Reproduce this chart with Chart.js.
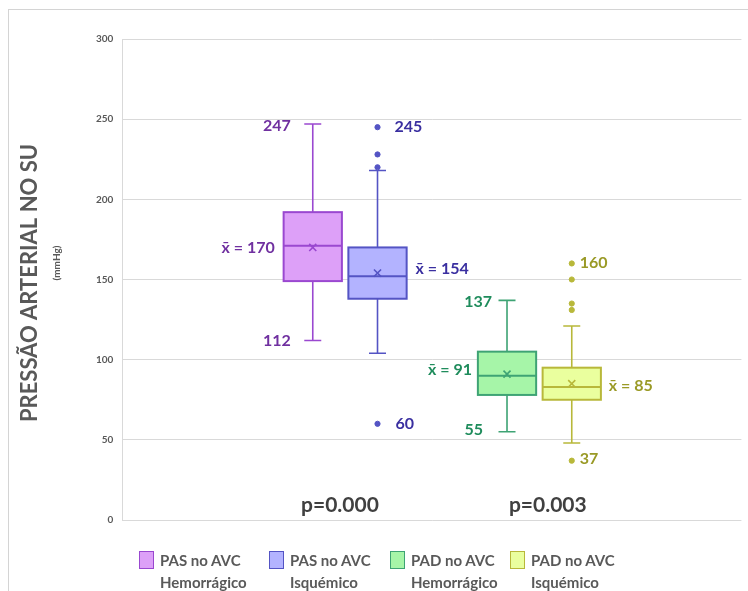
<!DOCTYPE html>
<html>
<head>
<meta charset="utf-8">
<script src="https://cdn.jsdelivr.net/npm/chart.js@4"></script>
<style>
  body { margin: 0; background: #fff; width: 748px; height: 591px; overflow: hidden; position: relative; font-family: Lato, sans-serif; }
  #frame { position: absolute; left: 8px; top: 9px; width: 900px; height: 800px; border: 1px solid #d4d4d4; }
  canvas { position: absolute; left: 0; top: 0; }
  .leg { position: absolute; top: 549px; display: flex; color: #595959; font-weight: 700; font-size: 15px; line-height: 22px; }
  .leg span.box { width: 13px; height: 16px; border: 1.5px solid; margin: 2px 6px 0 0; flex: none; }
</style>
</head>
<body>
<div id="frame"></div>
<canvas id="c" width="748" height="591"></canvas>
<div id="legend"></div>
<script>
// box plot values (mmHg)
const categories = ['PAS no AVC\nHemorrágico', 'PAS no AVC\nIsquémico', 'PAD no AVC\nHemorrágico', 'PAD no AVC\nIsquémico'];
const positions = [3, 4, 6, 7];
const whiskerLow = [112, 104, 55, 48];
const q1 = [149, 138, 78, 75];
const median = [171, 152, 90, 83];
const q3 = [192, 170, 105, 95];
const whiskerHigh = [247, 218, 137, 121];
const means = [170, 154, 91, 85];
const outliers = [[], [245, 228, 220, 60], [], [160, 150, 135, 131, 37]];
const yTicks = [0, 50, 100, 150, 200, 250, 300];

// value labels: [group, value, text]
const valueLabels = [
  [0, 247, '247'], [0, 112, '112'], [0, 170, 'x̄ = 170'],
  [1, 245, '245'], [1, 154, 'x̄ = 154'], [1, 60, '60'],
  [2, 137, '137'], [2, 91, 'x̄ = 91'], [2, 55, '55'],
  [3, 160, '160'], [3, 85, 'x̄ = 85'], [3, 37, '37']
];
const pValues = ['p=0.000', 'p=0.003'];

// styling
const fills = ['#dda0f8', '#b3b3ff', '#a6f5a8', '#eaff9e'];
const strokes = ['#9a48d0', '#5454c4', '#3ea374', '#b8b83a'];
const textColors = ['#7030a0', '#3a2fa0', '#1f8c5c', '#9a9a26'];
// pixel offset from box centre for each value label (negative = right aligned to the left)
const labelDx = [-22, -22, -38, 17, 38, 18, -15, -35, -24, 8, 37, 8];
const labelDy = [2, 0, 0, 0, -4, 0, 2, -4, -2, -1, 2, -2];
const pX = [3.42, 6.63];
const boxHalf = 0.45;

const datasets = [];
positions.forEach((p, i) => {
  datasets.push({
    data: [{ x: p, y: means[i] }],
    pointStyle: 'crossRot', pointRadius: 5, borderWidth: 1.6,
    borderColor: strokes[i], backgroundColor: strokes[i]
  });
  datasets.push({
    data: outliers[i].map(v => ({ x: p, y: v })),
    pointStyle: 'circle', pointRadius: 2.6, borderWidth: 1,
    borderColor: strokes[i], backgroundColor: strokes[i]
  });
});

const boxPlugin = {
  id: 'boxes',
  beforeDatasetsDraw(chart) {
    const { ctx, scales: { x, y } } = chart;
    ctx.save();
    positions.forEach((p, i) => {
      const cx = x.getPixelForValue(p);
      const l = x.getPixelForValue(p - boxHalf), r = x.getPixelForValue(p + boxHalf);
      const cap = 8.5;
      ctx.strokeStyle = strokes[i];
      ctx.lineWidth = 1.6;
      ctx.beginPath();
      ctx.moveTo(cx, y.getPixelForValue(whiskerLow[i]));
      ctx.lineTo(cx, y.getPixelForValue(whiskerHigh[i]));
      ctx.moveTo(cx - cap, y.getPixelForValue(whiskerLow[i]));
      ctx.lineTo(cx + cap, y.getPixelForValue(whiskerLow[i]));
      ctx.moveTo(cx - cap, y.getPixelForValue(whiskerHigh[i]));
      ctx.lineTo(cx + cap, y.getPixelForValue(whiskerHigh[i]));
      ctx.stroke();
      const top = y.getPixelForValue(q3[i]), bot = y.getPixelForValue(q1[i]);
      ctx.fillStyle = fills[i];
      ctx.fillRect(l, top, r - l, bot - top);
      ctx.lineWidth = 2;
      ctx.strokeRect(l, top, r - l, bot - top);
      ctx.beginPath();
      ctx.moveTo(l, y.getPixelForValue(median[i]));
      ctx.lineTo(r, y.getPixelForValue(median[i]));
      ctx.stroke();
    });
    ctx.restore();
  },
  afterDatasetsDraw(chart) {
    const { ctx, scales: { x, y } } = chart;
    ctx.save();
    ctx.font = 'bold 16px Lato';
    ctx.textBaseline = 'middle';
    valueLabels.forEach(([g, v, t], k) => {
      const dx = labelDx[k];
      ctx.fillStyle = textColors[g];
      ctx.textAlign = dx < 0 ? 'right' : 'left';
      ctx.fillText(t, x.getPixelForValue(positions[g]) + dx, y.getPixelForValue(v) + labelDy[k]);
    });
    ctx.font = 'bold 21px Lato';
    ctx.fillStyle = '#404040';
    ctx.textAlign = 'center';
    pValues.forEach((t, k) => ctx.fillText(t, x.getPixelForValue(pX[k]), y.getPixelForValue(9.4)));
    // y axis title
    ctx.translate(30, 283);
    ctx.rotate(-Math.PI / 2);
    ctx.fillStyle = '#595959';
    ctx.font = 'bold 22px Lato';
    ctx.fillText('PRESSÃO ARTERIAL NO SU', 0, 0);
    ctx.font = 'bold 10px Lato';
    ctx.fillText('(mmHg)', 20, 27);
    ctx.restore();
  }
};

new Chart(document.getElementById('c'), {
  type: 'scatter',
  data: { datasets },
  options: {
    responsive: false,
    animation: false,
    layout: { padding: { left: 87, top: 39, right: 2, bottom: 71 } },
    plugins: { legend: { display: false }, tooltip: { enabled: false } },
    scales: {
      x: { type: 'linear', min: 0.06, max: 9.62, display: false },
      y: {
        min: 0, max: 300,
        afterBuildTicks: s => { s.ticks = yTicks.map(v => ({ value: v })); },
        grid: { color: '#d9d9d9', drawTicks: false },
        border: { color: '#d9d9d9' },
        ticks: { color: '#595959', font: { family: 'Lato', size: 10, weight: 'bold' }, padding: 9 }
      }
    }
  },
  plugins: [boxPlugin]
});

// html legend
const legendX = [139, 269, 390, 510];
const legend = document.getElementById('legend');
categories.forEach((c, i) => {
  const d = document.createElement('div');
  d.className = 'leg';
  d.style.left = legendX[i] + 'px';
  d.innerHTML = '<span class="box" style="background:' + fills[i] + ';border-color:' + strokes[i] + '"></span><span>' + c.replace('\n', '<br>') + '</span>';
  legend.appendChild(d);
});
</script>
</body>
</html>
